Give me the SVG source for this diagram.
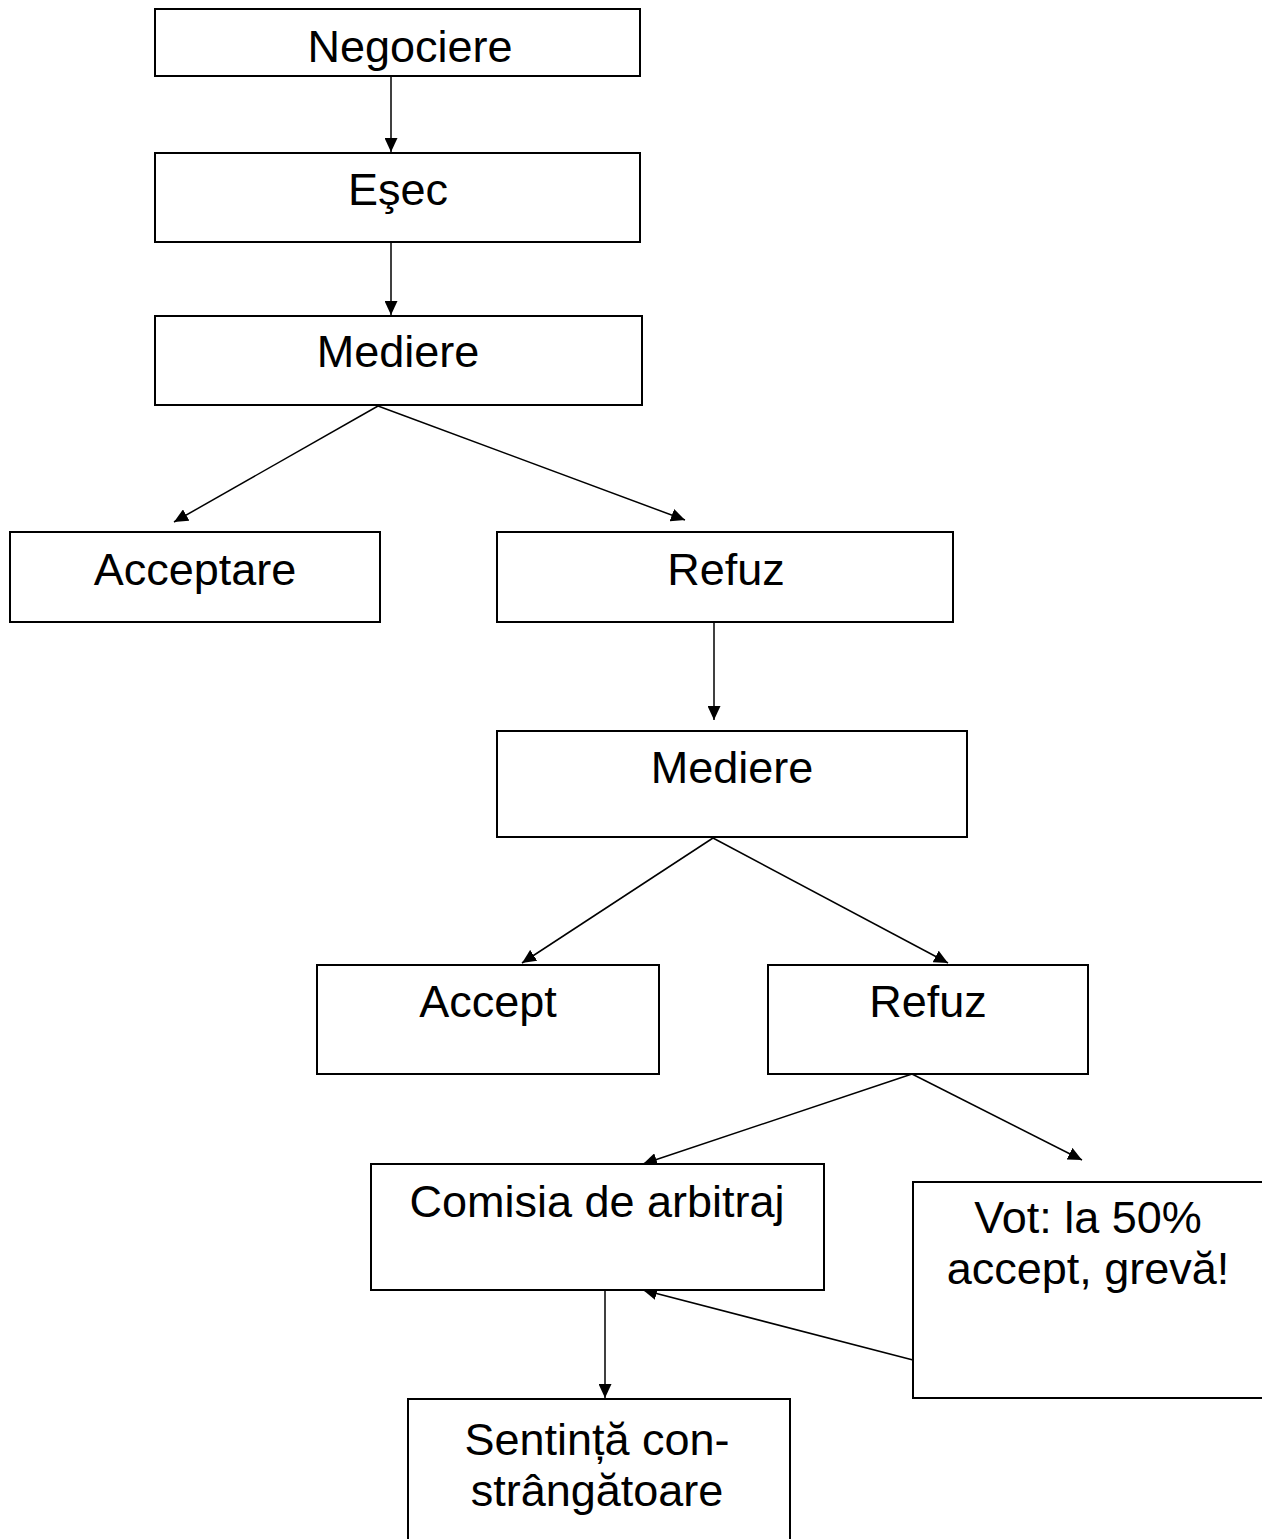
<svg xmlns="http://www.w3.org/2000/svg" width="1262" height="1539" viewBox="0 0 1262 1539">
<style>
.box{fill:#fff;stroke:#000;stroke-width:2}
.lbl{font-family:"Liberation Sans",Arial,sans-serif;font-size:45px;fill:#000;text-anchor:middle}
.c{stroke:#000;stroke-width:1.5;fill:none;marker-end:url(#ah)}
</style>
<defs>
<marker id="ah" viewBox="0 0 14 13" refX="14" refY="6.5" markerWidth="14" markerHeight="13" markerUnits="userSpaceOnUse" orient="auto">
<path d="M0,0 L14,6.5 L0,13 Z" fill="#000"/>
</marker>
</defs>
<rect width="1262" height="1539" fill="#fff"/>
<g id="connectors">
<line class="c" x1="391" y1="76" x2="391" y2="152"/>
<line class="c" x1="391" y1="242" x2="391" y2="315"/>
<line class="c" x1="378" y1="406" x2="174" y2="522"/>
<line class="c" x1="378" y1="406" x2="685" y2="520"/>
<line class="c" x1="714" y1="622" x2="714" y2="720"/>
<line class="c" x1="713" y1="838" x2="522" y2="963"/>
<line class="c" x1="713" y1="838" x2="948" y2="963"/>
<line class="c" x1="912" y1="1074" x2="643" y2="1164"/>
<line class="c" x1="912" y1="1074" x2="1082" y2="1160"/>
<line class="c" x1="913" y1="1360" x2="643" y2="1290"/>
<line class="c" x1="605" y1="1290" x2="605" y2="1398"/>
</g>
<g id="n1"><rect class="box" x="155" y="9" width="485" height="67"/><text class="lbl" x="410" y="62">Negociere</text></g>
<g id="n2"><rect class="box" x="155" y="153" width="485" height="89"/><text class="lbl" x="398" y="205">Eşec</text></g>
<g id="n3"><rect class="box" x="155" y="316" width="487" height="89"/><text class="lbl" x="398" y="367">Mediere</text></g>
<g id="n4"><rect class="box" x="10" y="532" width="370" height="90"/><text class="lbl" x="195" y="585">Acceptare</text></g>
<g id="n5"><rect class="box" x="497" y="532" width="456" height="90"/><text class="lbl" x="726" y="585">Refuz</text></g>
<g id="n6"><rect class="box" x="497" y="731" width="470" height="106"/><text class="lbl" x="732" y="783">Mediere</text></g>
<g id="n7"><rect class="box" x="317" y="965" width="342" height="109"/><text class="lbl" x="488" y="1017">Accept</text></g>
<g id="n8"><rect class="box" x="768" y="965" width="320" height="109"/><text class="lbl" x="928" y="1017">Refuz</text></g>
<g id="n9"><rect class="box" x="371" y="1164" width="453" height="126"/><text class="lbl" x="597" y="1217">Comisia de arbitraj</text></g>
<g id="n10"><rect class="box" x="913" y="1182" width="400" height="216"/><text class="lbl" x="1088" y="1233">Vot: la 50%</text><text class="lbl" x="1088" y="1284">accept, grevă!</text></g>
<g id="n11"><rect class="box" x="408" y="1399" width="382" height="200"/><text class="lbl" x="597" y="1455">Sentință con-</text><text class="lbl" x="597" y="1506">strângătoare</text></g>
</svg>
